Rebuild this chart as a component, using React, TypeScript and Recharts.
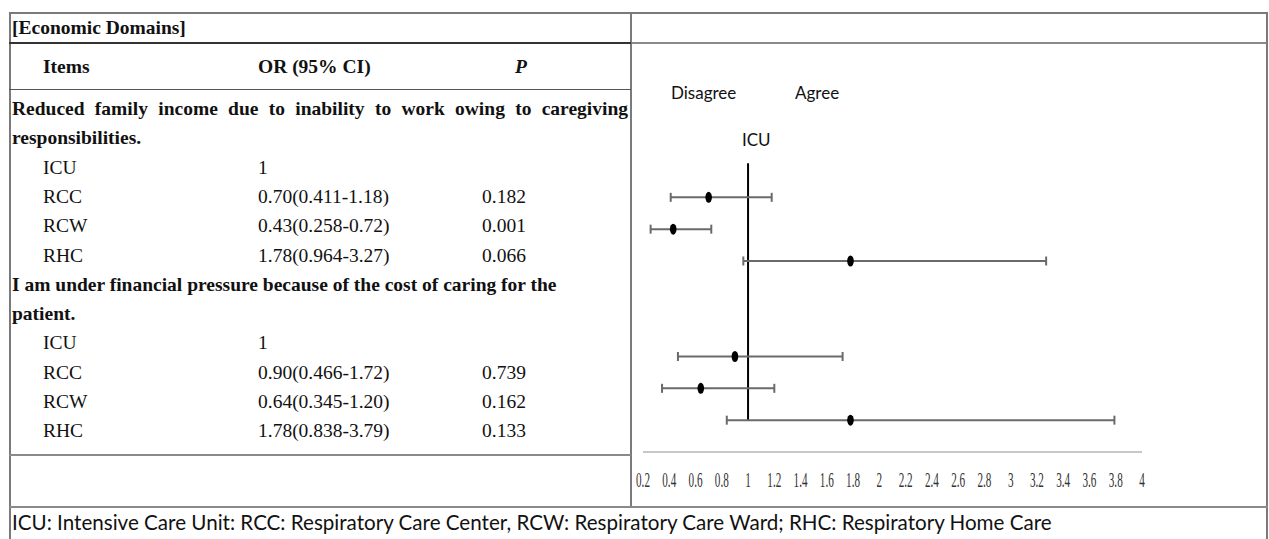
import { ScatterChart, Scatter, XAxis, YAxis, ErrorBar, ReferenceLine } from "recharts";

// table text
const sectionTitle = "[Economic Domains]";
const headers = ["Items", "OR (95% CI)", "P"];
const itemLines = [
  ["Reduced family income due to inability to work owing to caregiving", "responsibilities."],
  ["I am under financial pressure because of the cost of caring for the", "patient."],
];
const groups = ["ICU", "RCC", "RCW", "RHC"];

// odds ratios vs ICU (reference = 1)
const orItem1 = [0.70, 0.43, 1.78];
const lowItem1 = [0.411, 0.258, 0.964];
const highItem1 = [1.18, 0.72, 3.27];
const pItem1 = ["0.182", "0.001", "0.066"];

const orItem2 = [0.90, 0.64, 1.78];
const lowItem2 = [0.466, 0.345, 0.838];
const highItem2 = [1.72, 1.20, 3.79];
const pItem2 = ["0.739", "0.162", "0.133"];

const xTicks = [0.2, 0.4, 0.6, 0.8, 1, 1.2, 1.4, 1.6, 1.8, 2, 2.2, 2.4, 2.6, 2.8, 3, 3.2, 3.4, 3.6, 3.8, 4];

const footnote =
  "ICU: Intensive Care Unit: RCC: Respiratory Care Center, RCW: Respiratory Care Ward; RHC: Respiratory Home Care";

const SERIF = "'Liberation Serif', 'DejaVu Serif Condensed', 'DejaVu Serif', serif";
const SANS = "Lato";

const items = [
  { or: orItem1, low: lowItem1, high: highItem1, p: pItem1 },
  { or: orItem2, low: lowItem2, high: highItem2, p: pItem2 },
];

// forest rows: the plot skips 2 rows between the two items
const forestData = items.flatMap((it, s) =>
  it.or.map((v, i) => ({
    name: groups[i + 1],
    or: v,
    row: s * 5 + i,
    err: [v - it.low[i], it.high[i] - v],
  }))
);

const ROW_H = 29.3;
const FIRST_ROW = 109;

const Dot = (props: any) => {
  const { cx, cy } = props;
  return <ellipse cx={cx} cy={cy} rx={3.3} ry={5.5} fill="#000" />;
};

const Tick = (props: any) => {
  const { x, y, payload } = props;
  return (
    <g transform={`translate(${x},${y})`}>
      <text
        x={0}
        y={0}
        dy={27}
        textAnchor="middle"
        transform="scale(0.52,1)"
        style={{ fontFamily: SERIF }}
        fontSize={21.5}
        fill="#333"
      >
        {payload.value}
      </text>
    </g>
  );
};

const line = (left: number, top: number, width: number, height: number, color: string) => (
  <div style={{ position: "absolute", left, top, width, height, background: color }} />
);

const App = () => {
  const bodyRows: Array<{ text: string; bold?: boolean; justify?: boolean; or?: string; p?: string; sub?: boolean }> = [];
  items.forEach((it, s) => {
    bodyRows.push({ text: itemLines[s][0], bold: true, justify: s === 0 });
    bodyRows.push({ text: itemLines[s][1], bold: true });
    bodyRows.push({ text: groups[0], or: "1", sub: true });
    it.or.forEach((v, i) => {
      bodyRows.push({
        text: groups[i + 1],
        or: `${v.toFixed(2)}(${it.low[i].toFixed(3)}-${it.high[i].toFixed(2)})`,
        p: it.p[i],
        sub: true,
      });
    });
  });

  const txt = { position: "absolute" as const, fontFamily: SERIF, fontSize: 19.5, lineHeight: "24px", color: "#111", whiteSpace: "nowrap" as const };
  const sans = { position: "absolute" as const, fontFamily: SANS, fontSize: 17, lineHeight: "22px", color: "#111", whiteSpace: "nowrap" as const };

  return (
    <div style={{ position: "absolute", left: 0, top: 0, width: 1269, height: 539, background: "#fff", overflow: "hidden", fontFamily: SERIF }}>
      {/* borders */}
      {line(9, 12, 1259, 2, "#7a7a7a")}
      {line(9, 12, 2, 527, "#7a7a7a")}
      {line(1266, 12, 2, 527, "#7a7a7a")}
      {line(630, 12, 2, 495, "#7a7a7a")}
      {line(9, 42, 622, 2, "#333")}
      {line(632, 42, 634, 2, "#8a8a8a")}
      {line(9, 89, 622, 1, "#555")}
      {line(9, 454, 622, 2, "#8a8a8a")}
      {line(9, 506, 1259, 2, "#8a8a8a")}

      <div style={{ ...txt, left: 12, top: 28 - 12, fontWeight: "bold" }}>{sectionTitle}</div>
      <div style={{ ...txt, left: 43, top: 67 - 12, fontWeight: "bold" }}>{headers[0]}</div>
      <div style={{ ...txt, left: 258, top: 67 - 12, fontWeight: "bold" }}>{headers[1]}</div>
      <div style={{ ...txt, left: 515, top: 67 - 12, fontWeight: "bold", fontStyle: "italic" }}>{headers[2]}</div>

      {bodyRows.map((r, k) => {
        const top = FIRST_ROW + k * ROW_H - 12;
        if (!r.sub) {
          return (
            <div
              key={k}
              style={{
                ...txt,
                left: 12,
                top,
                width: 616,
                fontWeight: "bold",
                textAlign: r.justify ? "justify" : "left",
                textAlignLast: r.justify ? "justify" : "left",
                whiteSpace: "normal",
              }}
            >
              {r.text}
            </div>
          );
        }
        return (
          <div key={k}>
            <div style={{ ...txt, left: 43, top }}>{r.text}</div>
            <div style={{ ...txt, left: 258, top }}>{r.or}</div>
            {r.p && <div style={{ ...txt, left: 482, top }}>{r.p}</div>}
          </div>
        );
      })}

      {/* right column labels */}
      <div style={{ ...sans, left: 671, top: 93 - 11 }}>Disagree</div>
      <div style={{ ...sans, left: 795, top: 93 - 11 }}>Agree</div>
      <div style={{ ...sans, left: 742, top: 140 - 11 }}>ICU</div>

      <div style={{ position: "absolute", left: 631, top: 50 }}>
        <ScatterChart width={636} height={460} margin={{ top: 20, right: 125, bottom: 28, left: 12 }}>
          <XAxis
            type="number"
            dataKey="or"
            domain={[0.2, 4]}
            ticks={xTicks}
            interval={0}
            height={30}
            axisLine={{ stroke: "#c8c8c8", strokeWidth: 2 }}
            tickLine={false}
            tick={<Tick />}
          />
          <YAxis type="number" dataKey="row" domain={[-4, 8]} reversed hide />
          <ReferenceLine
            segment={[{ x: 1, y: -1.07 }, { x: 1, y: 7 }]}
            stroke="#000"
            strokeWidth={2}
          />
          <Scatter data={forestData} shape={<Dot />} isAnimationActive={false}>
            <ErrorBar dataKey="err" direction="x" width={4.5} stroke="#6a6a6a" strokeWidth={2} />
          </Scatter>
        </ScatterChart>
      </div>

      <div style={{ ...sans, left: 12, top: 522 - 12, fontSize: 20.6, lineHeight: "24px" }}>{footnote}</div>
    </div>
  );
};

export default App;
